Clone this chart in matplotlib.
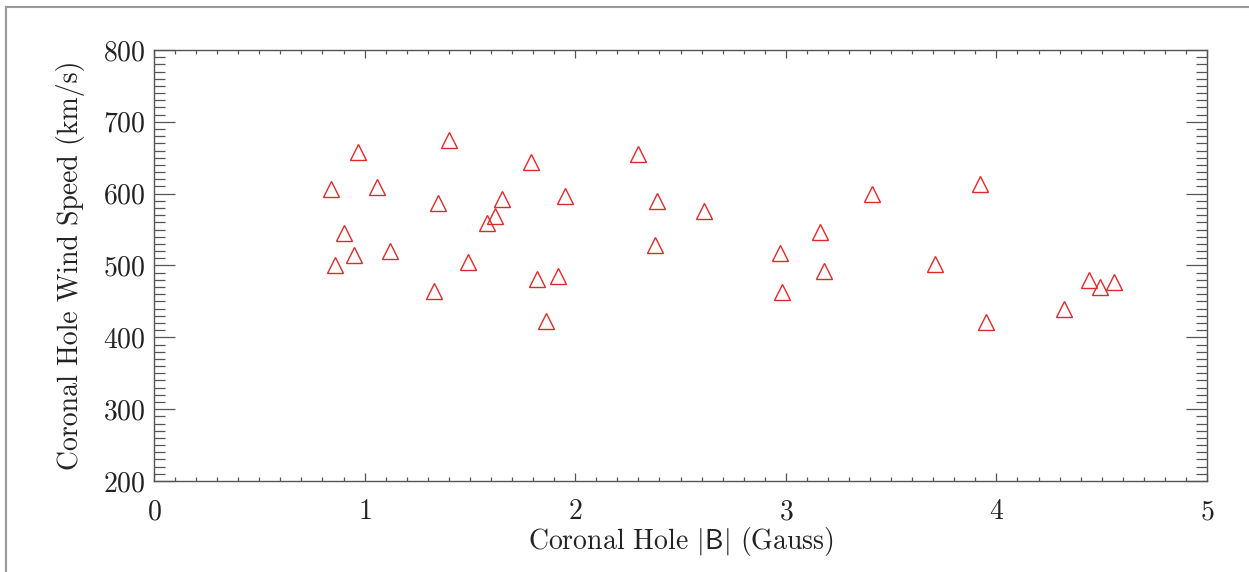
import matplotlib
matplotlib.use("Agg")
import matplotlib.pyplot as plt
from matplotlib.lines import Line2D
from matplotlib.ticker import MultipleLocator

# Coronal hole field strength (Gauss) and wind speed (km/s)
b_field = [0.84, 0.86, 0.90, 0.95, 0.97, 1.06, 1.12, 1.33, 1.35, 1.40,
           1.49, 1.58, 1.62, 1.65, 1.79, 1.82, 1.86, 1.92, 1.95, 2.30,
           2.38, 2.39, 2.61, 2.97, 2.98, 3.16, 3.18, 3.41, 3.71, 3.92,
           3.95, 4.32, 4.44, 4.49, 4.56]
wind_speed = [606, 501, 545, 515, 658, 609, 520, 464, 587, 675,
              505, 559, 569, 593, 644, 481, 423, 485, 597, 655,
              529, 590, 576, 517, 463, 547, 492, 600, 502, 614,
              421, 439, 480, 470, 477]

x_ticks = [0, 1, 2, 3, 4, 5]
y_ticks = [200, 300, 400, 500, 600, 700, 800]

plt.rcParams['font.family'] = ['cmr10', 'DejaVu Serif']
plt.rcParams['mathtext.fontset'] = 'cm'
plt.rcParams['axes.formatter.use_mathtext'] = True

fig = plt.figure(figsize=(12.49, 5.72), dpi=100)
ax = fig.add_axes([0.1233, 0.1591, 0.8431, 0.7535])

ax.plot(b_field, wind_speed, linestyle='none', marker='^', markersize=11,
        markerfacecolor='none', markeredgecolor='#dd2a2a', markeredgewidth=1.0)

ax.set_xlim(0, 5)
ax.set_ylim(200, 800)
ax.set_xticks(x_ticks)
ax.set_yticks(y_ticks)
ax.xaxis.set_minor_locator(MultipleLocator(0.1))
ax.yaxis.set_minor_locator(MultipleLocator(10))

edge = '#555555'
for sp in ax.spines.values():
    sp.set_color(edge)
    sp.set_linewidth(1.0)
ax.tick_params(which='both', direction='in', top=True, right=True,
               color=edge, width=0.9, labelsize=20, labelcolor='#222222')
ax.tick_params(axis='x', which='major', length=5.8, pad=13)
ax.tick_params(axis='x', which='minor', length=2.9)
ax.tick_params(axis='y', which='major', length=15, pad=6)
ax.tick_params(axis='y', which='minor', length=8)

ax.set_xlabel(r'Coronal Hole $\mathsf{|B|}$ (Gauss)', fontsize=20,
              labelpad=0, color='#222222')
ax.set_ylabel('Coronal Hole Wind Speed (km/s)', fontsize=20,
              labelpad=13, color='#222222')

# grey frame along the top and left of the panel
frame = '#999999'
fig.add_artist(Line2D([6 / 1249, 6 / 1249], [0, 1 - 7 / 572],
                      transform=fig.transFigure, color=frame, linewidth=1.5))
fig.add_artist(Line2D([6 / 1249, 1], [1 - 7 / 572, 1 - 7 / 572],
                      transform=fig.transFigure, color=frame, linewidth=1.5))

fig.savefig('out.png', dpi=100)
